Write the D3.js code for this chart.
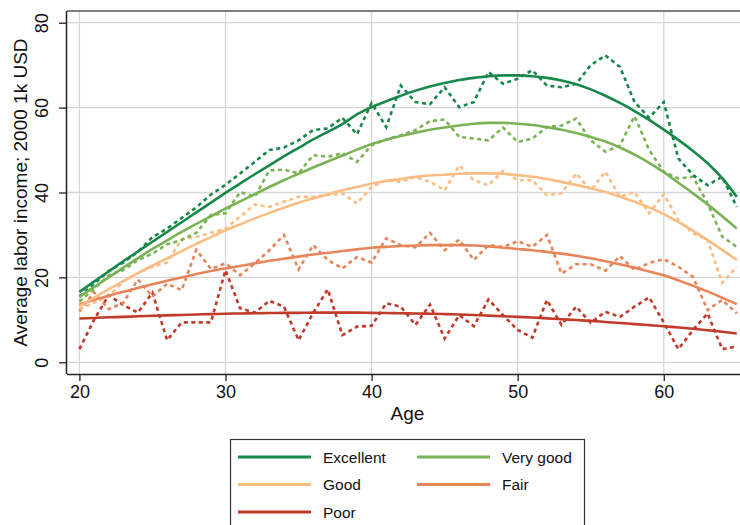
<!DOCTYPE html>
<html>
<head>
<meta charset="utf-8">
<script src="https://cdn.jsdelivr.net/npm/d3@7"></script>
<style>
  html, body { margin: 0; padding: 0; background: #fff; }
  svg { display: block; }
  text { font-family: "Liberation Sans", Arial, Helvetica, sans-serif; fill: #111; }
</style>
</head>
<body>
<svg id="chart" width="740" height="525"></svg>
<script>
// ---------- data ----------
const ages = d3.range(20, 66);
const categories = ["Excellent", "Very good", "Good", "Fair", "Poor"];
const colors = ["#17874a", "#7ab356", "#fbbd84", "#e8845a", "#c13a2a"];

// raw averages (dotted)
const excellentRaw = [15.5,18.5,21.5,23.5,26,29.5,31.5,34,36.5,39.5,41.8,44.5,47.2,50,50.6,52.3,54.7,55.1,57.6,53.7,61.1,55.4,65.2,61.3,60.8,64.8,60.1,61.3,68.4,65.6,66.8,68.8,65.2,64.8,65.6,70,72.3,69.6,61.3,57.6,61.3,48,44.1,41.7,43.7,36.6];
const veryGoodRaw = [14.3,17.3,20.5,21.7,24.1,25.6,27.8,28.8,30.5,34.7,35.1,40.1,39,45.2,45.4,44.5,48.8,48.4,49.3,47.2,51.1,52.5,53.5,54.7,56.8,57.2,53.1,52.7,52.3,55.3,51.9,52.7,55.4,55.8,57.4,52.3,49.6,51.1,58,50,44.9,43.3,43.7,37.4,29.6,27.2];
const goodRaw = [12.5,14,15.5,19,21,22.5,23.5,29,29.5,30.5,31.5,34.3,37.2,36.6,37.8,39,39,39.4,39.8,37.4,41.3,42.9,42.5,43.7,42.5,40.5,46.4,42.9,41.7,45.1,42.9,42.9,39.4,39.8,44.5,40.5,44.9,39,40.1,35.1,39.6,33.5,30.4,28.8,18.7,22.5];
const fairRaw = [12,16.5,12.5,14,19.5,15.5,18.5,17,26.5,22,23.3,20.5,23.3,26.4,30,21.9,27.6,24.1,22.1,24.8,23.5,29.2,27.6,27.1,30.5,26.4,28.9,24.1,27.6,27.2,28.5,27.2,30,20.9,23.1,23.1,21.6,25,21.7,23.4,24.3,22.5,20.1,12.3,14.7,11.5];
const poorRaw = [3.1,10,15.8,13.5,11.7,16.4,5.2,9.4,9.4,9.4,21.7,12.7,11.7,14.5,13.1,5.2,11.6,17.2,6.4,8.4,8.6,13.9,13.1,8.8,13.6,5.6,11.1,8.5,14.8,11.1,7.6,5.8,14.7,8.8,13.1,9.3,11.9,10.7,13.1,15.3,9.4,3.1,7.6,11.5,3.1,3.7];

// fitted profiles (solid)
const excellentFit = [16.6,19.0,21.4,23.8,26.1,28.4,30.7,33.0,35.3,37.6,39.9,42.1,44.3,46.4,48.5,50.5,52.5,54.3,56.1,58.4,60.1,61.5,62.8,64.0,65.0,65.8,66.5,67.0,67.4,67.6,67.6,67.4,67.0,66.4,65.5,64.3,62.8,61.1,59.2,57.1,54.8,52.4,49.8,46.9,43.4,39.0];
const veryGoodFit = [15.4,17.7,20.0,22.3,24.5,26.7,28.7,30.7,32.6,34.4,36.2,37.9,39.6,41.3,42.9,44.4,45.9,47.3,48.7,50.1,51.4,52.4,53.3,54.1,54.8,55.3,55.8,56.2,56.4,56.4,56.2,55.9,55.4,54.8,54.0,53.1,52.0,50.6,48.9,47.0,44.8,42.3,39.8,37.2,34.4,31.5];
const goodFit = [13.2,15.2,17.2,19.1,21.0,22.8,24.5,26.2,27.9,29.5,31.1,32.5,33.9,35.2,36.4,37.6,38.6,39.6,40.5,41.3,42.1,42.7,43.2,43.7,44.0,44.2,44.4,44.5,44.5,44.4,44.1,43.7,43.2,42.5,41.8,41.0,40.1,39.0,37.8,36.5,34.9,33.0,31.0,28.8,26.5,24.1];
const fairFit = [13.7,14.7,15.7,16.6,17.5,18.4,19.2,20.0,20.8,21.5,22.1,22.7,23.3,23.9,24.4,24.9,25.4,25.8,26.2,26.6,27.0,27.2,27.4,27.5,27.6,27.6,27.6,27.5,27.3,27.0,26.7,26.4,26.0,25.6,25.1,24.5,23.8,23.1,22.3,21.4,20.5,19.3,18.0,16.7,15.2,13.7];
const poorFit = [10.3,10.45,10.6,10.7,10.85,10.95,11.05,11.15,11.25,11.35,11.45,11.5,11.55,11.6,11.65,11.65,11.7,11.7,11.7,11.7,11.65,11.6,11.55,11.5,11.45,11.35,11.25,11.15,11.0,10.85,10.7,10.55,10.35,10.15,9.95,9.75,9.5,9.25,9.0,8.75,8.5,8.2,7.9,7.55,7.2,6.8];

const xTicks = [20, 30, 40, 50, 60];
const yTicks = [0, 20, 40, 60, 80];

const rawSeries = [excellentRaw, veryGoodRaw, goodRaw, fairRaw, poorRaw];
const fitSeries = [excellentFit, veryGoodFit, goodFit, fairFit, poorFit];

// ---------- layout ----------
const svg = d3.select("#chart");
const L = 67, R = 740, T = 11, B = 374;
const x = d3.scaleLinear().domain([19.15, 65.15]).range([L, 739]);
const y = d3.scaleLinear().domain([-2.76, 82.76]).range([B, T]);

// gridlines
const grid = svg.append("g");
grid.selectAll("line.h").data(yTicks).join("line")
  .attr("x1", L).attr("x2", R)
  .attr("y1", d => y(d)).attr("y2", d => y(d))
  .attr("stroke", "#d6d6d6").attr("stroke-width", 1.3);
grid.selectAll("line.v").data(xTicks).join("line")
  .attr("x1", d => x(d)).attr("x2", d => x(d))
  .attr("y1", T).attr("y2", B)
  .attr("stroke", "#d6d6d6").attr("stroke-width", 1.3);

// top border
svg.append("line").attr("x1", L).attr("x2", R).attr("y1", T).attr("y2", T)
  .attr("stroke", "#555").attr("stroke-width", 1.5);

// series
const lineGen = d3.line().x((d, i) => x(ages[i])).y(d => y(d));
const smoothGen = d3.line().x((d, i) => x(ages[i])).y(d => y(d)).curve(d3.curveMonotoneX);

const plot = svg.append("g");
for (let s = 4; s >= 0; s--) {
  plot.append("path").datum(rawSeries[s])
    .attr("d", lineGen)
    .attr("fill", "none").attr("stroke", colors[s])
    .attr("stroke-width", 2.6).attr("stroke-dasharray", "4,3.5");
}
for (let s = 4; s >= 0; s--) {
  plot.append("path").datum(fitSeries[s])
    .attr("d", smoothGen)
    .attr("fill", "none").attr("stroke", colors[s])
    .attr("stroke-width", 2.6);
}

// axes
const xAxis = svg.append("g").attr("transform", `translate(0,${B})`)
  .call(d3.axisBottom(x).tickValues(xTicks).tickSize(7).tickPadding(4).tickSizeOuter(0));
xAxis.select(".domain").attr("d", `M${L},0.5H${R}`).attr("stroke", "#222").attr("stroke-width", 1.5);
xAxis.selectAll(".tick line").attr("stroke", "#222").attr("stroke-width", 1.3);
xAxis.selectAll(".tick text").attr("font-size", 18).attr("font-family", "Liberation Sans, Arial, sans-serif").attr("fill", "#111");

const yAxis = svg.append("g").attr("transform", `translate(${L},0)`)
  .call(d3.axisLeft(y).tickValues(yTicks).tickSize(8).tickSizeOuter(0));
yAxis.select(".domain").attr("d", `M-0.5,${T}V${B}`).attr("stroke", "#222").attr("stroke-width", 1.5);
yAxis.selectAll(".tick line").attr("stroke", "#222").attr("stroke-width", 1.3);
yAxis.selectAll(".tick text")
  .attr("font-size", 18).attr("font-family", "Liberation Sans, Arial, sans-serif").attr("fill", "#111")
  .attr("transform", "rotate(-90)")
  .attr("x", 0).attr("y", -19).attr("dy", 0)
  .attr("text-anchor", "middle");

// axis titles
svg.append("text").attr("x", (L + R) / 2 + 4).attr("y", 420)
  .attr("text-anchor", "middle").attr("font-size", 19).text("Age");
svg.append("text")
  .attr("transform", `translate(27,${(T + B) / 2}) rotate(-90)`)
  .attr("text-anchor", "middle").attr("font-size", 19)
  .text("Average labor income; 2000 1k USD");

// legend
const lg = svg.append("g");
lg.append("rect").attr("x", 230.5).attr("y", 439.5).attr("width", 354).attr("height", 100)
  .attr("fill", "#fff").attr("stroke", "#333").attr("stroke-width", 1.2);
const legPos = [[238, 457], [417, 457], [238, 484.5], [417, 484.5], [238, 512]];
categories.forEach((c, i) => {
  const [lx, ly] = legPos[i];
  lg.append("line").attr("x1", lx).attr("x2", lx + 73).attr("y1", ly).attr("y2", ly)
    .attr("stroke", colors[i]).attr("stroke-width", 2.8);
  lg.append("text").attr("x", lx + 85).attr("y", ly).attr("dy", "0.36em")
    .attr("font-size", 15.5).text(c);
});
</script>
</body>
</html>
